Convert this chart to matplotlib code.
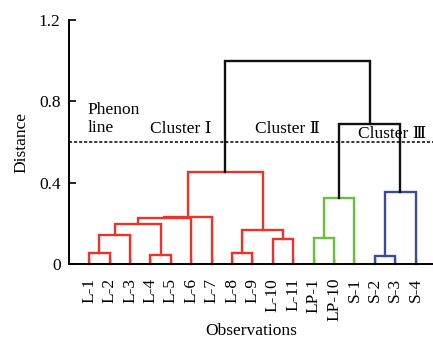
import numpy as np
import matplotlib.pyplot as plt

plt.rcParams['font.family'] = ['Liberation Serif', 'DejaVu Serif', 'Noto Sans CJK SC']

# leaves in dendrogram order
leaves = ['L-1', 'L-2', 'L-3', 'L-4', 'L-5', 'L-6', 'L-7', 'L-8', 'L-9', 'L-10', 'L-11',
          'LP-1', 'LP-10', 'S-1', 'S-2', 'S-3', 'S-4']

# merges: child a, child b, distance, colour group (new node ids start at len(leaves))
merge_a = [0, 17, 3, 18, 20, 21, 7, 9, 23, 22, 11, 27, 14, 29, 28, 26]
merge_b = [1, 2, 4, 19, 5, 6, 8, 10, 24, 25, 12, 13, 15, 16, 30, 31]
merge_h = [0.053, 0.14, 0.045, 0.195, 0.225, 0.233, 0.053, 0.123, 0.167, 0.454,
           0.13, 0.326, 0.041, 0.354, 0.689, 1.0]
merge_grp = ['I', 'I', 'I', 'I', 'I', 'I', 'I', 'I', 'I', 'I',
             'II', 'II', 'III', 'III', 'top', 'top']

colors = {'I': '#e8352c', 'II': '#6cbf3c', 'III': '#3c4a9c', 'top': '#111111'}

phenon = 0.6

fig = plt.figure(figsize=(4.33, 3.41), dpi=100)
ax = fig.add_axes([0.159, 0.226, 0.841, 0.715])

xpos = {i: i + 1 for i in range(len(leaves))}
ypos = {i: 0.0 for i in range(len(leaves))}
node = len(leaves)
for a, b, h, g in zip(merge_a, merge_b, merge_h, merge_grp):
    xa, xb = xpos[a], xpos[b]
    ax.plot([xa, xa, xb, xb], [ypos[a], h, h, ypos[b]], color=colors[g], lw=1.7,
            solid_joinstyle='miter', clip_on=False)
    xpos[node] = (xa + xb) / 2
    ypos[node] = h
    node += 1

ax.axhline(phenon, color='black', lw=1.1, ls=(0, (2, 1.3)))

fs = 12.5
ax.text(0.93, 0.713, 'Phenon\nline', fontsize=fs, ha='left', va='center', linespacing=1.1)
ax.text(5.5, 0.664, 'Cluster Ⅰ', fontsize=fs, ha='center', va='center')
ax.text(10.7, 0.664, 'Cluster Ⅱ', fontsize=fs, ha='center', va='center')
ax.text(15.85, 0.64, 'Cluster Ⅲ', fontsize=fs, ha='center', va='center')

ax.set_xlim(0, 17.85)
ax.set_ylim(0, 1.2)
ax.set_xticks(range(1, len(leaves) + 1))
ax.set_xticklabels(leaves, rotation=90, fontsize=fs)
ax.set_yticks([0, 0.4, 0.8, 1.2])
ax.set_yticklabels(['0', '0.4', '0.8', '1.2'], fontsize=fs)
ax.tick_params(axis='x', direction='in', length=4, width=1, color='#333333', pad=10)
ax.tick_params(axis='y', direction='in', length=5, width=1.2, pad=6)
ax.spines['top'].set_visible(False)
ax.spines['right'].set_visible(False)
ax.spines['left'].set_linewidth(1.4)
ax.spines['bottom'].set_linewidth(1.4)
ax.set_ylabel('Distance', fontsize=fs, labelpad=7)
ax.set_xlabel('Observations', fontsize=fs, labelpad=1)

fig.savefig('out.png', dpi=100)
